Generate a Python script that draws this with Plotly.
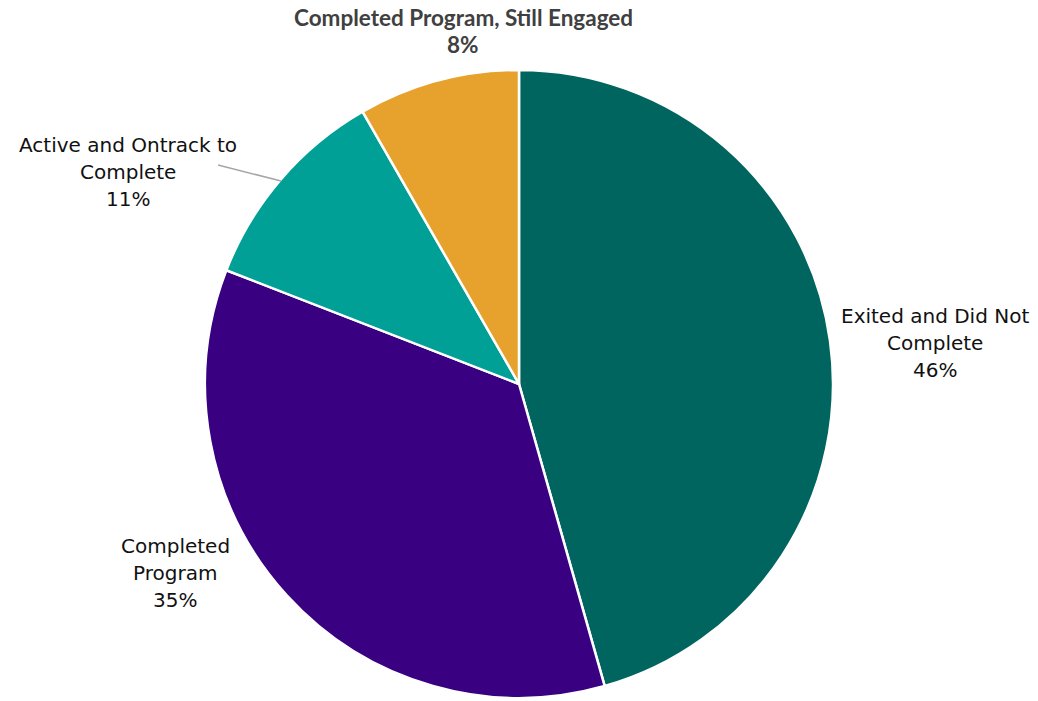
import plotly.graph_objects as go

labels = ["Exited and Did Not Complete", "Completed Program", "Active and Ontrack to Complete", "Completed Program, Still Engaged"]
values = [45.6, 35.3, 10.8, 8.3]
colors = ["#00655E", "#390082", "#00A096", "#E7A22E"]
label_lines = [
    ["Exited and Did Not", "Complete"],
    ["Completed", "Program"],
    ["Active and Ontrack to", "Complete"],
    ["Completed Program, Still Engaged"],
]
# label centre positions (pixels, first line) for layout
label_pos = [(935, 316), (175, 546), (128, 145), (463, 18)]

W, H = 1038, 701
cx, cy, r = 519, 384, 314

fig = go.Figure(go.Pie(
    labels=labels, values=values, sort=False, direction="clockwise", rotation=0,
    marker=dict(colors=colors, line=dict(color="white", width=2.5)),
    textinfo="none", hoverinfo="label+percent", showlegend=False,
    domain=dict(x=[(cx - r) / W, (cx + r) / W], y=[1 - (cy + r) / H, 1 - (cy - r) / H]),
))

total = sum(values)
annotations = []
for i, (lines, (px, py)) in enumerate(zip(label_lines, label_pos)):
    pct = f"{round(values[i] / total * 100)}%"
    all_lines = lines + [pct]
    top = i == 3
    for j, t in enumerate(all_lines):
        annotations.append(dict(
            x=px / W, y=1 - (py + 27 * j) / H, xref="paper", yref="paper",
            text=f"<b>{t}</b>" if top else t, showarrow=False,
            xanchor="center", yanchor="middle",
            font=dict(family="Lato" if top else "DejaVu Sans", size=22.5 if top else 20,
                      color="#404040" if top else "#111111"),
        ))

fig.add_shape(type="line", xref="paper", yref="paper",
              x0=218 / W, y0=1 - 165 / H, x1=281 / W, y1=1 - 181 / H,
              line=dict(color="#A6A6A6", width=1.5))

fig.update_layout(
    width=W, height=H, margin=dict(l=0, r=0, t=0, b=0),
    paper_bgcolor="white", plot_bgcolor="white",
    annotations=annotations,
)
fig.write_html("out.html")
